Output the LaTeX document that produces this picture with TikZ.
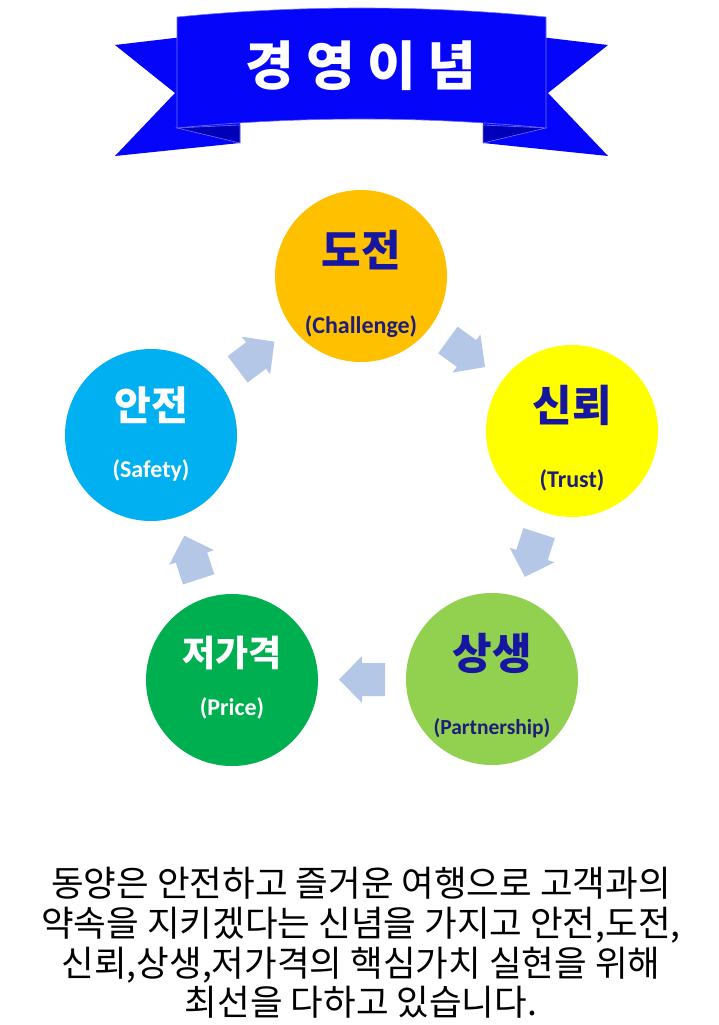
\documentclass[tikz,border=0pt]{standalone}
\usepackage{fontspec}
\newfontfamily\kr{Noto Sans CJK KR}
\newfontfamily\lat{Carlito}
\usetikzlibrary{calc}
\definecolor{bannerblue}{RGB}{5,5,250}
\definecolor{folddark}{RGB}{0,0,185}
\definecolor{bannerline}{RGB}{110,110,255}
\definecolor{cgold}{RGB}{255,192,0}
\definecolor{cyellow}{RGB}{255,255,0}
\definecolor{clgreen}{RGB}{146,208,80}
\definecolor{cdgreen}{RGB}{0,176,80}
\definecolor{ccyan}{RGB}{0,176,240}
\definecolor{navy}{RGB}{22,22,160}
\definecolor{subnavy}{RGB}{30,30,120}
\definecolor{arrowblue}{RGB}{180,199,231}
\tikzset{
  bubble/.style={circle, minimum size=172pt, inner sep=0pt},
  bigblue/.style={text=navy, font=\kr\bfseries\fontsize{43}{50}\selectfont, inner sep=0pt},
  bigwhite/.style={text=white, font=\kr\bfseries\fontsize{36}{42}\selectfont, inner sep=0pt},
  subblue/.style={text=subnavy, font=\lat\bfseries\fontsize{24}{28}\selectfont, inner sep=0pt},
  subwhite/.style={text=white, font=\lat\bfseries\fontsize{24}{28}\selectfont, inner sep=0pt},
  blockarrow/.pic={\fill[arrowblue] (-23,-16.5) -- (0,-16.5) -- (0,-23.5) -- (23,0) -- (0,23.5) -- (0,16.5) -- (-23,16.5) -- cycle;}
}
\begin{document}
\begin{tikzpicture}[x=1pt,y=-1pt]
\useasboundingbox (0,0) rectangle (719,1025);
\fill[white] (0,0) rectangle (719,1025);
% banner tails
\fill[bannerblue] (115,45) -- (200,35) -- (240,120) -- (240,143) -- (115,156) -- (175,93) -- cycle;
\fill[bannerblue] (608,45) -- (523,35) -- (483,120) -- (483,143) -- (608,156) -- (548,93) -- cycle;
% folds
\filldraw[fill=folddark, draw=bannerline, line width=0.6pt] (177,128) -- (240,125) -- (240,143) -- cycle;
\filldraw[fill=folddark, draw=bannerline, line width=0.6pt] (546,128) -- (483,125) -- (483,143) -- cycle;
% band
\filldraw[fill=bannerblue, draw=bannerline, line width=0.6pt] (177,17) .. controls (300,5) and (423,5) .. (546,17) -- (546,128) .. controls (423,116) and (300,116) .. (177,128) -- cycle;
\node[text=white, font=\kr\bfseries\fontsize{53}{60}\selectfont, inner sep=0pt] (title) at (361,66) {경 영 이 념};
% circles
\node[bubble, fill=cgold] (dojeon) at (361,276) {};
\node[bubble, fill=cyellow] (sinroe) at (572,431) {};
\node[bubble, fill=clgreen] (sangsaeng) at (492,679) {};
\node[bubble, fill=cdgreen] (jeogagyeok) at (232,680) {};
\node[bubble, fill=ccyan] (anjeon) at (151,435) {};
% labels
\node[bigblue] (t1) at ($(dojeon)+(0,-26)$) {도전};
\node[subblue] (s1) at ($(dojeon)+(0,51)$) {(Challenge)};
\node[bigblue] (t2) at ($(sinroe)+(0,-26)$) {신뢰};
\node[subblue] (s2) at ($(sinroe)+(0,49)$) {(Trust)};
\node[bigblue] (t3) at ($(sangsaeng)+(0,-26)$) {상생};
\node[subblue, font=\lat\bfseries\fontsize{21.5}{26}\selectfont] (s3) at ($(sangsaeng)+(0,49)$) {(Partnership)};
\node[bigwhite] (t4) at ($(jeogagyeok)+(0,-27)$) {저가격};
\node[subwhite] (s4) at ($(jeogagyeok)+(0,28)$) {(Price)};
\node[bigwhite, font=\kr\bfseries\fontsize{40}{46}\selectfont] (t5) at ($(anjeon)+(0,-30)$) {안전};
\node[subwhite] (s5) at ($(anjeon)+(0,35)$) {(Safety)};
% arrows
\pic[rotate=37] (a1) at ($(anjeon)!0.5!(dojeon)$) {blockarrow};
\pic[rotate=-36] (a2) at ($(dojeon)!0.5!(sinroe)$) {blockarrow};
\pic[rotate=-108] (a3) at ($(sinroe)!0.5!(sangsaeng)$) {blockarrow};
\pic[rotate=180] (a4) at ($(sangsaeng)!0.5!(jeogagyeok)$) {blockarrow};
\pic[rotate=108] (a5) at ($(jeogagyeok)!0.5!(anjeon)$) {blockarrow};
% bottom text
\node[align=center, font=\kr\fontsize{35.5}{39.7}\selectfont, inner sep=0pt] (body) at (361,943) {동양은 안전하고 즐거운 여행으로 고객과의\\약속을 지키겠다는 신념을 가지고 안전,도전,\\신뢰,상생,저가격의 핵심가치 실현을 위해\\최선을 다하고 있습니다.};
\end{tikzpicture}
\end{document}
